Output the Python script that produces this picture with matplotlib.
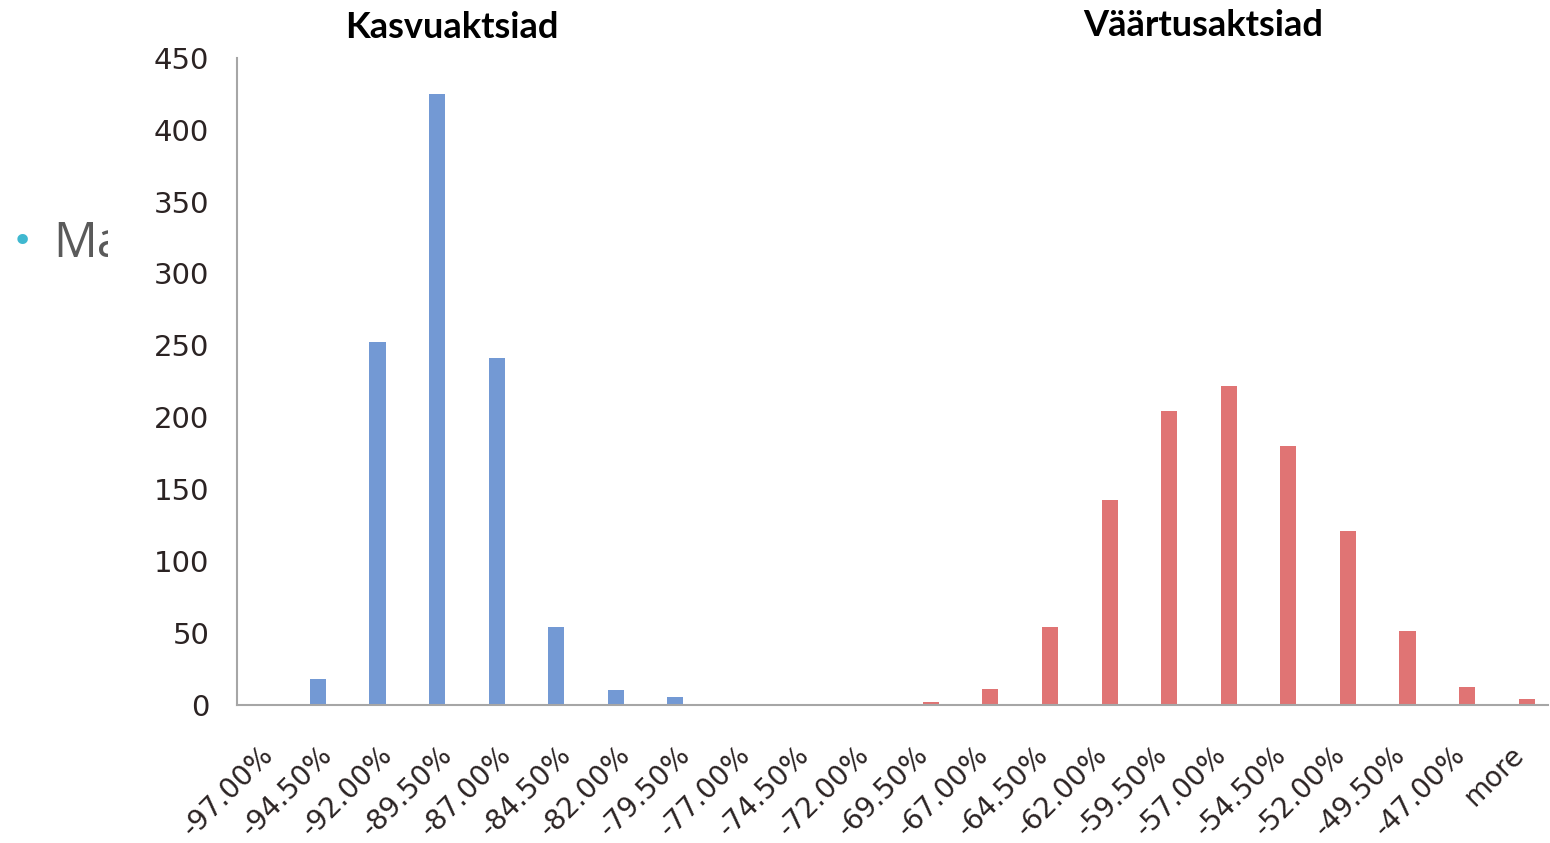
import numpy as np
import matplotlib.pyplot as plt
from matplotlib.patches import Rectangle
from matplotlib.transforms import ScaledTranslation

labels = ['-97.00%', '-94.50%', '-92.00%', '-89.50%', '-87.00%', '-84.50%',
          '-82.00%', '-79.50%', '-77.00%', '-74.50%', '-72.00%', '-69.50%',
          '-67.00%', '-64.50%', '-62.00%', '-59.50%', '-57.00%', '-54.50%',
          '-52.00%', '-49.50%', '-47.00%', 'more']
kasvu = [0, 18, 252, 425, 241, 54, 10, 5, 0, 0, 0,
         0, 0, 0, 0, 0, 0, 0, 0, 0, 0, 0]
vaartus = [0, 0, 0, 0, 0, 0, 0, 0, 0, 0, 0,
           2, 11, 54, 142, 204, 222, 180, 121, 51, 12, 4]

fig = plt.figure(figsize=(15.5, 8.43), dpi=100)
fig.patch.set_facecolor('white')

# cut-off slide bullet behind the chart
fig.text(22 / 1550, 1 - 242 / 843, '\u2022', color='#3fb8d0', fontsize=26,
         ha='center', va='center')
t = fig.text(53 / 1550, 1 - 244 / 843, 'Ma', color='#5a5a5a', fontsize=35,
             family='Open Sans', ha='left', va='center')
t.set_clip_path(Rectangle((0, 0), 108 / 1550, 1, transform=fig.transFigure))

ax = fig.add_axes([237 / 1550, 1 - 704.5 / 843, 1311 / 1550, 646.5 / 843])
x = np.arange(len(labels))
w = 0.27
ax.bar(x - 0.143, kasvu, w, color='#7399d4')
ax.bar(x + 0.143, vaartus, w, color='#e07474')

ax.set_xlim(-0.5, len(labels) - 0.5)
ax.set_ylim(0, 450)
ax.set_yticks(range(0, 451, 50))
ax.set_xticks(x)
ax.set_xticklabels(labels, rotation=45, ha='right', rotation_mode='anchor')
ax.tick_params(axis='both', length=0, labelcolor='#2b2323')
ax.tick_params(axis='y', pad=20, labelsize=21)
ax.tick_params(axis='x', pad=26, labelsize=20)
shift = ScaledTranslation(-8 / 100, 0, fig.dpi_scale_trans)
for lab in ax.get_xticklabels():
    lab.set_transform(lab.get_transform() + shift)

for s in ['top', 'right']:
    ax.spines[s].set_visible(False)
for s in ['left', 'bottom']:
    ax.spines[s].set_color('#a6a6a6')
    ax.spines[s].set_linewidth(1.5)

fig.text(452 / 1550, 1 - 28 / 843, 'Kasvuaktsiad', fontsize=26,
         fontweight='bold', family='Lato', ha='center', va='center')
fig.text(1203 / 1550, 1 - 26 / 843, 'Väärtusaktsiad', fontsize=26,
         fontweight='bold', family='Lato', ha='center', va='center')

fig.savefig('out.png', dpi=100)
